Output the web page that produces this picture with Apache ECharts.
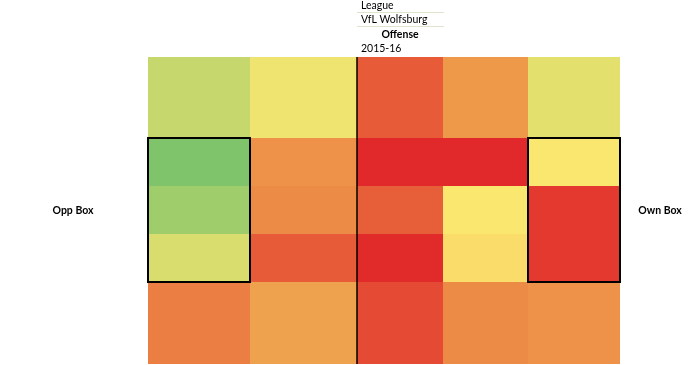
<!DOCTYPE html>
<html><head><meta charset="utf-8">
<script src="https://cdn.jsdelivr.net/npm/echarts@6/dist/echarts.min.js"></script>
<style>html,body{margin:0;padding:0;background:#fff}#c{width:697px;height:365px}</style>
</head><body><div id="c"></div>
<script>
// pitch zone edges (pitch units along length / width)
const colEdges = [0, 102, 209, 295, 380, 472];
const rowEdges = [0, 81, 129, 177, 225, 307];
// activity intensity per zone (rows top->bottom, cols left->right)
const zoneValues = [
  [19, 30, 85, 67, 27],
  [0, 69, 100, 100, 33],
  [9, 71, 84, 33, 95],
  [24, 85, 99, 38, 95],
  [75, 63, 90, 71, 69]
];
const palette = ['#7fc46a', '#fbe76f', '#ee9a4a', '#e1282a'];
const halfwayLine = [[209, 0], [209, 307]];
const boxes = [[0, 81, 102, 225], [380, 81, 472, 225]];
const titleLines = ['League', 'VfL Wolfsburg', 'Offense', '2015-16'];
const sideLabels = ['Opp Box', 'Own Box'];

const cells = [];
zoneValues.forEach((row, r) => row.forEach((v, c) => {
  cells.push([colEdges[c], rowEdges[r], colEdges[c + 1], rowEdges[r + 1], v]);
}));

const FONT = 'Lato, "Open Sans", sans-serif';
const chart = echarts.init(document.getElementById('c'), null, {renderer: 'canvas'});
chart.setOption({
  animation: false,
  grid: {left: 148, right: 77, top: 57, bottom: 1},
  xAxis: {type: 'value', min: 0, max: colEdges[colEdges.length - 1], show: false},
  yAxis: {type: 'value', min: 0, max: rowEdges[rowEdges.length - 1], inverse: true, show: false},
  visualMap: {type: 'continuous', show: false, min: 0, max: 100, dimension: 4, seriesIndex: 0,
    inRange: {color: palette}},
  series: [
    {
      type: 'custom', data: cells, encode: {x: [0, 2], y: [1, 3]},
      renderItem(params, api) {
        const p0 = api.coord([api.value(0), api.value(1)]);
        const p1 = api.coord([api.value(2), api.value(3)]);
        return {type: 'rect', shape: {x: p0[0], y: p0[1], width: p1[0] - p0[0], height: p1[1] - p0[1]},
          style: {fill: api.visual('color')}};
      }
    },
    {
      type: 'line', data: halfwayLine, symbol: 'none', z: 5,
      lineStyle: {color: '#000', width: 1.5}
    },
    {
      type: 'custom', data: boxes, encode: {x: [0, 2], y: [1, 3]}, z: 6,
      renderItem(params, api) {
        const p0 = api.coord([api.value(0), api.value(1)]);
        const p1 = api.coord([api.value(2), api.value(3)]);
        return {type: 'rect', shape: {x: p0[0], y: p0[1], width: p1[0] - p0[0], height: p1[1] - p0[1]},
          style: {fill: 'none', stroke: '#000', lineWidth: 2}};
      }
    }
  ],
  graphic: [
    {type: 'line', shape: {x1: 357, y1: 12.5, x2: 444, y2: 12.5}, style: {stroke: '#dde5cf', lineWidth: 1}},
    {type: 'line', shape: {x1: 357, y1: 26.5, x2: 444, y2: 26.5}, style: {stroke: '#dde5cf', lineWidth: 1}},
    {type: 'text', x: 361, y: 6, style: {text: titleLines[0], font: '10.5px ' + FONT, fill: '#000', verticalAlign: 'middle'}},
    {type: 'text', x: 361, y: 20, style: {text: titleLines[1], font: '10.5px ' + FONT, fill: '#000', verticalAlign: 'middle'}},
    {type: 'text', x: 400, y: 35, style: {text: titleLines[2], font: 'bold 10.5px ' + FONT, fill: '#000', align: 'center', verticalAlign: 'middle'}},
    {type: 'text', x: 361, y: 49, style: {text: titleLines[3], font: '10.5px ' + FONT, fill: '#000', verticalAlign: 'middle'}},
    {type: 'text', x: 73, y: 211, style: {text: sideLabels[0], font: 'bold 10.5px ' + FONT, fill: '#000', align: 'center', verticalAlign: 'middle'}},
    {type: 'text', x: 660, y: 211, style: {text: sideLabels[1], font: 'bold 10.5px ' + FONT, fill: '#000', align: 'center', verticalAlign: 'middle'}}
  ]
});
</script>
</body></html>
